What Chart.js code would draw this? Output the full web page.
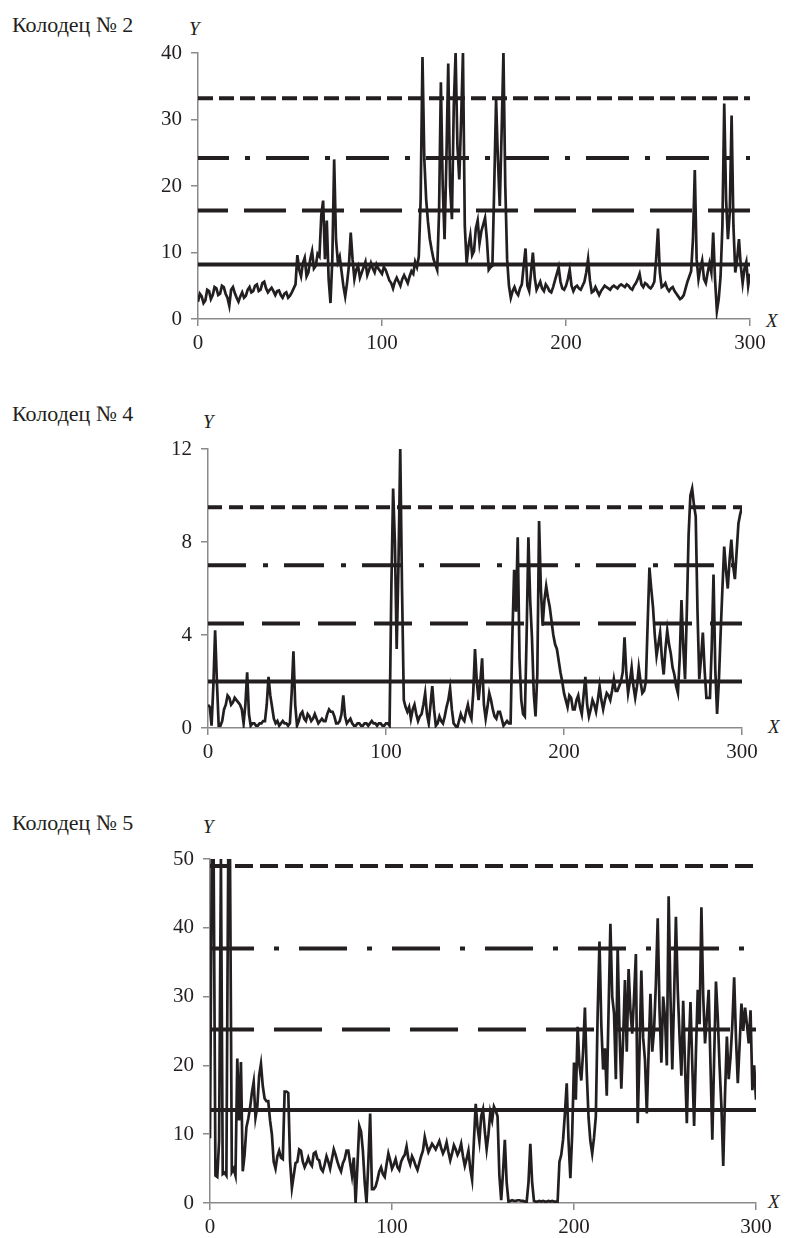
<!DOCTYPE html>
<html lang="ru">
<head>
<meta charset="UTF-8">
<title>Колодцы</title>
<script src="https://cdn.jsdelivr.net/npm/chart.js"></script>
<style>
  html, body { margin: 0; padding: 0; background: #fff; overflow: hidden; }
  body { width: 787px; height: 1238px; position: relative; font-family: "Liberation Serif", "Times New Roman", Tinos, "DejaVu Serif", serif; color: #231f20; }
  canvas { position: absolute; left: 0; }
  .lbl { position: absolute; white-space: nowrap; line-height: 1; }
  .title { font-size: 22px; left: 12px; }
  .ax { font-size: 19px; font-style: italic; }
</style>
</head>
<body>
<div class="lbl title" style="top:14px">Колодец № 2</div>
<div class="lbl ax" style="left:189px;top:19px">Y</div>
<div class="lbl ax" style="left:766px;top:311px">X</div>
<canvas id="well2" width="787" height="341" style="top:13px"></canvas>

<div class="lbl title" style="top:403px">Колодец № 4</div>
<div class="lbl ax" style="left:203px;top:412px">Y</div>
<div class="lbl ax" style="left:768px;top:717px">X</div>
<canvas id="well4" width="787" height="354" style="top:409px"></canvas>

<div class="lbl title" style="top:812px">Колодец № 5</div>
<div class="lbl ax" style="left:203px;top:817px">Y</div>
<div class="lbl ax" style="left:768px;top:1192px">X</div>
<canvas id="well5" width="787" height="419" style="top:819px"></canvas>

<script>
// shared x axis: one reading per unit of X, 0..300
const xTicks = [0, 100, 200, 300];

// Колодец № 2
const well2Values = [
  2.6, 3.8, 3.4, 2.4, 2.8, 4.4, 4.2, 3.0, 3.6, 4.8,   // 0
  4.6, 3.6, 3.8, 5.0, 4.8, 3.8, 3.2, 2.0, 4.4, 4.8,   // 10
  3.9, 3.2, 2.6, 3.4, 4.0, 3.2, 3.5, 4.4, 4.8, 4.0,   // 20
  4.2, 5.0, 5.2, 4.2, 4.4, 5.4, 5.6, 4.6, 4.0, 4.4,   // 30
  4.7, 4.2, 3.6, 4.2, 4.3, 3.6, 3.2, 3.8, 4.0, 3.2,   // 40
  3.5, 4.0, 4.6, 5.2, 9.6, 7.4, 6.4, 8.4, 9.2, 6.4,   // 50
  7.0, 9.0, 10.2, 7.6, 8.0, 9.8, 9.4, 15.6, 17.8, 9.0, // 60
  14.8, 6.0, 2.4, 9.0, 24.0, 12.0, 8.6, 9.4, 7.2, 5.0, // 70
  3.4, 5.4, 8.0, 13.0, 9.0, 6.0, 7.4, 8.0, 6.2, 7.0,  // 80
  7.8, 8.6, 6.6, 7.4, 8.4, 7.6, 7.0, 8.2, 7.6, 7.2,   // 90
  6.8, 7.8, 7.4, 6.6, 5.8, 5.4, 4.6, 5.6, 6.2, 5.6,   // 100
  5.0, 6.0, 6.6, 6.0, 5.4, 6.4, 7.2, 6.8, 8.6, 7.8,   // 110
  9.4, 18.0, 39.4, 24.0, 18.0, 14.6, 12.0, 10.4, 9.0, 8.2,   // 120
  7.4, 16.0, 35.6, 20.0, 12.0, 24.0, 38.4, 20.0, 15.0, 32.0, // 130
  40, 26.0, 21.0, 30.0, 40, 14.0, 8.4, 11.0, 12.6, 9.6,      // 140
  10.2, 13.6, 14.8, 11.4, 13.2, 14.2, 15.2, 12.0, 7.4, 7.8,  // 150
  8.0, 20.0, 33.0, 24.0, 17.0, 28.0, 40, 20.0, 9.0, 5.0,     // 160
  3.2, 4.2, 4.8, 4.0, 3.6, 4.6, 5.2, 8.0, 10.6, 5.0,  // 170
  4.2, 7.0, 10.0, 6.2, 4.4, 5.0, 5.6, 4.6, 4.2, 5.2,  // 180
  4.8, 4.2, 4.0, 4.8, 5.8, 6.8, 7.8, 5.6, 4.6, 4.4,   // 190
  5.0, 6.0, 7.4, 5.0, 4.2, 4.8, 5.0, 4.6, 4.4, 5.0,   // 200
  5.6, 7.0, 9.0, 5.8, 4.0, 4.2, 4.8, 4.2, 3.6, 4.2,   // 210
  4.6, 5.0, 4.8, 4.6, 4.4, 4.8, 5.0, 4.8, 4.6, 5.0,   // 220
  5.2, 5.0, 4.8, 5.2, 5.0, 4.6, 4.4, 5.0, 5.4, 6.0,   // 230
  6.8, 5.2, 4.8, 5.4, 5.2, 4.8, 4.6, 5.0, 5.6, 9.0,   // 240
  13.6, 7.0, 4.8, 5.0, 5.4, 4.6, 4.2, 4.6, 4.8, 4.2,  // 250
  3.8, 3.4, 3.0, 3.2, 3.6, 4.6, 5.6, 6.4, 7.2, 12.0,  // 260
  22.4, 9.0, 6.0, 7.6, 8.8, 6.0, 5.4, 7.0, 8.4, 7.0,  // 270
  13.0, 6.0, 1.2, 3.0, 6.4, 14.0, 32.4, 18.0, 12.0, 16.0, // 280
  30.6, 14.0, 7.0, 9.0, 12.0, 8.0, 5.4, 7.6, 8.6, 5.0,    // 290
  6.8                                                      // 300
];
const well2Levels = [8.2, 16.3, 24.2, 33.2];
const well2YTicks = [0, 10, 20, 30, 40];

// Колодец № 4
const well4Values = [
  1.0, 0.9, 0.1, 1.8, 4.2, 2.0, 0.1, 0.1, 0.3, 0.8,   // 0
  1.0, 1.4, 1.3, 1.0, 1.1, 1.3, 1.2, 1.1, 1.0, 0.8,   // 10
  0.2, 1.0, 2.4, 0.6, 0.1, 0.2, 0.2, 0.1, 0.1, 0.2,   // 20
  0.2, 0.3, 0.3, 1.0, 2.2, 1.4, 0.9, 0.4, 0.2, 0.3,   // 30
  0.1, 0.2, 0.3, 0.2, 0.2, 0.1, 0.2, 1.5, 3.3, 1.0,   // 40
  0.1, 0.3, 0.6, 0.7, 0.4, 0.3, 0.6, 0.5, 0.3, 0.4,   // 50
  0.6, 0.4, 0.2, 0.3, 0.4, 0.3, 0.3, 0.6, 0.8, 0.7,   // 60
  0.7, 0.5, 0.2, 0.2, 0.3, 0.6, 1.4, 0.5, 0.2, 0.3,   // 70
  0.4, 0.2, 0.1, 0.1, 0.2, 0.2, 0.1, 0.1, 0.2, 0.2,   // 80
  0.1, 0.2, 0.3, 0.2, 0.2, 0.1, 0.2, 0.2, 0.1, 0.1,   // 90
  0.2, 0.2, 0.1, 6.0, 10.3, 8.0, 3.4, 7.0, 12.0, 6.0, // 100
  1.2, 0.9, 0.7, 0.9, 0.4, 0.8, 1.0, 0.6, 0.3, 0.5,   // 110
  0.6, 1.0, 1.5, 0.6, 0.2, 1.0, 1.8, 0.8, 0.1, 0.2,   // 120
  0.5, 0.3, 0.2, 0.5, 0.9, 1.2, 1.7, 0.8, 0.2, 0.1,   // 130
  0.0, 0.3, 0.6, 0.4, 0.3, 0.7, 1.0, 0.6, 0.4, 1.5,   // 140
  3.4, 2.0, 1.2, 2.0, 3.0, 1.0, 0.4, 0.9, 1.5, 1.2,   // 150
  0.8, 0.5, 0.4, 0.7, 0.7, 0.4, 0.1, 0.2, 0.3, 0.2,   // 160
  0.2, 4.0, 6.8, 5.0, 8.2, 3.0, 1.2, 0.6, 0.5, 4.0,   // 170
  8.2, 5.5, 3.9, 1.5, 0.5, 2.3, 8.9, 6.0, 4.4, 5.5,   // 180
  6.1, 5.6, 5.2, 4.6, 4.0, 3.6, 3.4, 2.9, 2.4, 2.0,   // 190
  1.5, 1.2, 0.9, 1.4, 1.3, 0.8, 0.8, 1.2, 1.4, 0.9,   // 200
  0.6, 1.4, 2.2, 1.0, 0.5, 0.8, 1.2, 1.0, 0.7, 1.2,   // 210
  1.8, 1.2, 0.8, 1.2, 1.5, 1.4, 1.2, 1.6, 2.1, 1.6,   // 220
  1.6, 1.8, 2.0, 2.4, 3.9, 2.4, 1.5, 2.0, 2.6, 1.8,   // 230
  1.3, 1.8, 2.6, 2.0, 1.5, 1.6, 2.0, 4.5, 6.9, 6.0,   // 240
  5.2, 4.0, 3.1, 3.6, 4.1, 3.0, 2.3, 3.4, 4.2, 3.6,   // 250
  3.2, 2.6, 2.3, 1.8, 1.5, 3.0, 5.5, 3.5, 2.1, 5.0,   // 260
  8.3, 10.0, 10.3, 9.6, 9.1, 5.0, 2.1, 3.0, 4.1, 2.5, // 270
  1.3, 1.3, 1.3, 3.5, 6.6, 2.5, 0.6, 2.0, 4.1, 6.0,   // 280
  7.8, 6.8, 6.0, 7.2, 8.1, 7.0, 6.4, 7.6, 8.8, 9.2,   // 290
  9.5                                                  // 300
];
const well4Levels = [2.0, 4.5, 7.0, 9.5];
const well4YTicks = [0, 4, 8, 12];

// Колодец № 5
const well5Values = [
  9.4, 50, 50, 4.0, 3.8, 9.0, 50, 4.2, 4.4, 4.0,      // 0
  50, 50, 4.5, 5.0, 4.0, 21.0, 12.0, 20.5, 4.6, 7.0,  // 10
  11.0, 12.2, 13.8, 16.0, 17.6, 12.4, 14.0, 18.5, 20.2, 17.0, // 20
  15.2, 14.8, 14.8, 12.0, 10.0, 6.0, 5.0, 6.8, 7.6, 6.6,      // 30
  6.4, 16.2, 16.2, 16.0, 6.0, 2.2, 4.0, 5.8, 6.0, 7.8,  // 40
  7.6, 6.0, 5.2, 5.8, 6.6, 5.8, 5.4, 7.2, 7.4, 6.4,     // 50
  6.2, 5.0, 4.6, 5.6, 6.8, 6.0, 5.0, 6.4, 7.8, 7.0,     // 60
  6.0, 5.2, 4.6, 5.8, 6.4, 7.6, 7.6, 5.8, 4.0, 6.6,     // 70
  0.0, 5.4, 11.2, 10.4, 7.6, 3.0, 0.0, 6.0, 13.0, 2.0,  // 80
  2.0, 2.4, 3.4, 4.6, 5.2, 4.2, 3.8, 5.6, 7.2, 6.2,     // 90
  5.0, 5.6, 6.4, 5.2, 4.8, 6.0, 6.6, 7.0, 8.2, 6.4,     // 100
  5.6, 6.8, 6.2, 5.4, 4.8, 5.8, 6.8, 7.6, 9.6, 8.4,     // 110
  7.4, 8.0, 8.6, 8.2, 7.8, 8.4, 9.0, 8.0, 7.2, 7.8,     // 120
  8.8, 7.4, 6.2, 7.2, 8.4, 7.8, 7.0, 7.6, 8.6, 6.8,     // 130
  5.4, 6.4, 7.6, 5.0, 3.4, 9.0, 14.4, 11.0, 9.0, 12.6,  // 140
  13.6, 10.4, 7.8, 10.0, 13.2, 12.0, 14.0, 13.4, 12.6, 4.0, // 150
  0.4, 4.5, 9.2, 3.0, 0.2, 0.3, 0.4, 0.3, 0.3, 0.4,     // 160
  0.4, 0.3, 0.3, 0.2, 0.2, 3.0, 8.6, 3.0, 0.3, 0.2,     // 170
  0.2, 0.3, 0.2, 0.3, 0.2, 0.2, 0.3, 0.2, 0.3, 0.2,     // 180
  0.2, 0.2, 6.0, 7.0, 9.2, 13.0, 17.4, 9.0, 3.6, 10.0,  // 190
  20.4, 15.0, 25.6, 20.0, 17.8, 22.0, 28.4, 19.0, 12.4, 9.0,  // 200
  7.2, 9.5, 12.6, 27.6, 38.0, 26.0, 19.4, 22.5, 15.6, 28.0,   // 210
  40.6, 30.0, 27.6, 18.0, 37.2, 25.0, 16.6, 24.0, 32.4, 22.0, // 220
  34.0, 28.0, 24.6, 30.0, 36.2, 11.6, 22.0, 33.8, 24.0, 20.8, // 230
  13.0, 22.0, 30.4, 22.0, 25.2, 32.0, 41.4, 28.0, 20.4, 30.0, // 240
  27.0, 20.0, 44.6, 30.0, 19.4, 30.0, 41.6, 31.0, 24.2, 18.5, // 250
  29.4, 20.0, 11.6, 22.0, 29.2, 20.0, 11.2, 22.0, 31.0, 26.0, // 260
  43.0, 30.0, 23.2, 27.0, 31.0, 20.0, 9.2, 21.0, 32.2, 27.0,  // 270
  19.8, 14.0, 5.4, 16.0, 24.2, 18.0, 21.2, 26.0, 32.8, 24.0,  // 280
  17.4, 23.0, 29.0, 25.0, 28.4, 26.0, 23.2, 28.0, 16.4, 20.0, // 290
  15.0                                                         // 300
];
const well5Levels = [13.5, 25.2, 37.0, 49.0];
const well5YTicks = [0, 10, 20, 30, 40, 50];

const ink = '#231f20';
const axisGray = '#8a8a8a';
const serif = '"Liberation Serif", "Times New Roman", Tinos, "DejaVu Serif", serif';

// area: y-axis box width (= plot left), right padding, plot top inside canvas; dashes per level
function drawWell(id, values, levels, yTicks, area, dashes) {
  const points = values.map((v, i) => ({ x: i, y: v }));
  const datasets = [{
    data: points,
    borderColor: ink,
    borderWidth: 2.7,
    pointRadius: 0,
    tension: 0,
    order: 2
  }];
  levels.forEach((lv, k) => {
    datasets.push({
      data: [{ x: 0, y: lv }, { x: 300, y: lv }],
      borderColor: ink,
      borderWidth: 4,
      borderDash: dashes[k].dash,
      borderDashOffset: dashes[k].offset || 0,
      pointRadius: 0,
      order: 1
    });
  });

  new Chart(document.getElementById(id), {
    type: 'line',
    data: { datasets: datasets },
    options: {
      responsive: false,
      animation: false,
      events: [],
      layout: { padding: { top: area.top, right: area.right, left: 0, bottom: 0 } },
      plugins: { legend: { display: false }, tooltip: { enabled: false } },
      scales: {
        x: {
          type: 'linear',
          min: 0,
          max: 300,
          afterBuildTicks: s => { s.ticks = xTicks.map(v => ({ value: v })); },
          afterFit: s => { s.height = 35; },
          grid: { drawOnChartArea: false, drawTicks: true, tickLength: 7, color: axisGray, lineWidth: 1.5 },
          border: { color: axisGray, width: 1.5 },
          ticks: { padding: 5, color: ink, font: { family: serif, size: 21 } }
        },
        y: {
          min: 0,
          max: yTicks[yTicks.length - 1],
          afterBuildTicks: s => { s.ticks = yTicks.map(v => ({ value: v })); },
          afterFit: s => { s.width = area.left; },
          grid: { drawOnChartArea: false, drawTicks: true, tickLength: 7, color: axisGray, lineWidth: 1.5 },
          border: { color: axisGray, width: 1.5 },
          ticks: { padding: 9, color: ink, font: { family: serif, size: 21 } }
        }
      }
    }
  });
}

drawWell('well2', well2Values, well2Levels, well2YTicks,
  { left: 198, right: 37, top: 40 },
  [{ dash: [] }, { dash: [42, 16], offset: 12 }, { dash: [43, 16, 5, 16], offset: 12 }, { dash: [15, 6] }]);

drawWell('well4', well4Values, well4Levels, well4YTicks,
  { left: 208, right: 45, top: 40 },
  [{ dash: [] }, { dash: [38, 18], offset: 2 }, { dash: [40, 17, 5, 16], offset: 2 }, { dash: [14, 7] }]);

drawWell('well5', well5Values, well5Levels, well5YTicks,
  { left: 210, right: 31, top: 40 },
  [{ dash: [] }, { dash: [48, 20], offset: 4 }, { dash: [48, 20, 5, 20], offset: 4 }, { dash: [18, 7] }]);
</script>
</body>
</html>
